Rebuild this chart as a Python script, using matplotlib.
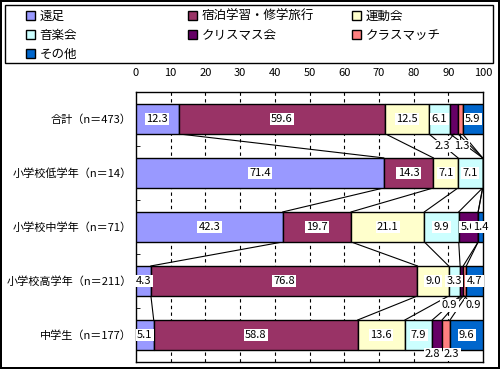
import matplotlib
matplotlib.use("Agg")
import matplotlib.pyplot as plt
from matplotlib.patches import Rectangle
import numpy as np

plt.rcParams['font.family'] = ['Noto Sans CJK JP', 'DejaVu Sans']

# データ
groups = ['合計（n＝473）', '小学校低学年（n＝14）', '小学校中学年（n＝71）',
          '小学校高学年（n＝211）', '中学生（n＝177）']
events = ['遠足', '宿泊学習・修学旅行', '運動会', '音楽会', 'クリスマス会', 'クラスマッチ', 'その他']
ensoku = [12.3, 71.4, 42.3, 4.3, 5.1]
shukuhaku = [59.6, 14.3, 19.7, 76.8, 58.8]
undokai = [12.5, 7.1, 21.1, 9.0, 13.6]
ongakukai = [6.1, 7.1, 9.9, 3.3, 7.9]
xmas = [2.3, 0, 5.6, 0.9, 2.8]
classmatch = [1.3, 0, 0, 0.9, 2.3]
sonota = [5.9, 0, 1.4, 4.7, 9.6]
colors = ['#9999FF', '#993366', '#FFFFCC', '#CCFFFF', '#660066', '#FF8080', '#0066CC']

series = [ensoku, shukuhaku, undokai, ongakukai, xmas, classmatch, sonota]

# 小さい区間のラベルはバーの下に出す (行, 系列) -> (dx, dy)
outside = {(0, 4): (-3.3, 0.5), (0, 5): (0.3, 0.5),
           (3, 4): (-3.5, 0.45), (3, 5): (2.3, 0.45),
           (4, 4): (-1.3, 0.36), (4, 5): (1.6, 0.36)}

fig = plt.figure(figsize=(5, 3.69), dpi=100)
fig.patch.set_edgecolor('black')
fig.patch.set_linewidth(1.5)
ax = fig.add_axes([0.272, 0.019, 0.694, 0.732])

y = np.arange(len(groups))
h = 0.556
left = np.zeros(len(groups))
handles = []
for i, vals in enumerate(series):
    vals = np.array(vals)
    b = ax.barh(y, vals, left=left, height=h, color=colors[i],
                edgecolor='black', linewidth=1, zorder=3, label=events[i])
    handles.append(b)
    for r in range(len(groups)):
        v = vals[r]
        if v == 0:
            continue
        cx = left[r] + v / 2
        if (r, i) in outside:
            dx, dy = outside[(r, i)]
            ax.plot([cx, cx + dx * 0.5], [y[r] + h / 2, y[r] + h / 2 + (dy - h / 2) * 0.6],
                    color='black', lw=0.7, zorder=4)
            tx, ty = cx + dx, y[r] + dy
        else:
            tx, ty = cx, y[r]
        ax.text(tx, ty, f'{v:.1f}', ha='center', va='center', fontsize=8,
                zorder=5, bbox=dict(facecolor='white', edgecolor='none', pad=1))
    left = left + vals

# 系列線
cum = np.cumsum(np.array(series), axis=0)
for k in range(len(series) - 1):
    for r in range(len(groups) - 1):
        ax.plot([cum[k][r], cum[k][r + 1]], [y[r] + h / 2, y[r + 1] - h / 2],
                color='black', lw=0.8, zorder=2)

ax.set_xlim(0, 100)
ax.set_ylim(len(groups) - 0.5, -0.5)
ax.set_xticks(np.arange(0, 101, 10))
ax.xaxis.tick_top()
ax.tick_params(axis='x', length=0, labelsize=8, pad=10)
ax.set_yticks(y)
ax.set_yticklabels(groups, fontsize=8)
ax.tick_params(axis='y', length=0, pad=3)
ax.set_yticks(np.arange(-0.5, len(groups), 1), minor=True)
ax.tick_params(axis='y', which='minor', direction='in', length=3, color='black')
for x in range(10, 100, 10):
    ax.axvline(x, color='black', ls=(0, (3, 3)), lw=0.8, zorder=1)
for s in ax.spines.values():
    s.set_color('black')
    s.set_linewidth(1)

# 凡例 (3列、各列を個別に配置)
fig.add_artist(Rectangle((5 / 500, 1 - 63 / 369), 488 / 500, 58 / 369,
                         transform=fig.transFigure, fill=False,
                         edgecolor='black', linewidth=1))
columns = [[0, 3, 6], [1, 4], [2, 5]]
col_x = [0.052, 0.376, 0.704]
for col, cx in zip(columns, col_x):
    fig.legend([handles[j] for j in col], [events[j] for j in col],
               loc='upper left', bbox_to_anchor=(cx, 0.974), frameon=False,
               fontsize=9, handlelength=0.7, handleheight=0.7,
               handletextpad=0.4, borderpad=0, labelspacing=0.5,
               borderaxespad=0)

fig.savefig('out.png', dpi=100)
